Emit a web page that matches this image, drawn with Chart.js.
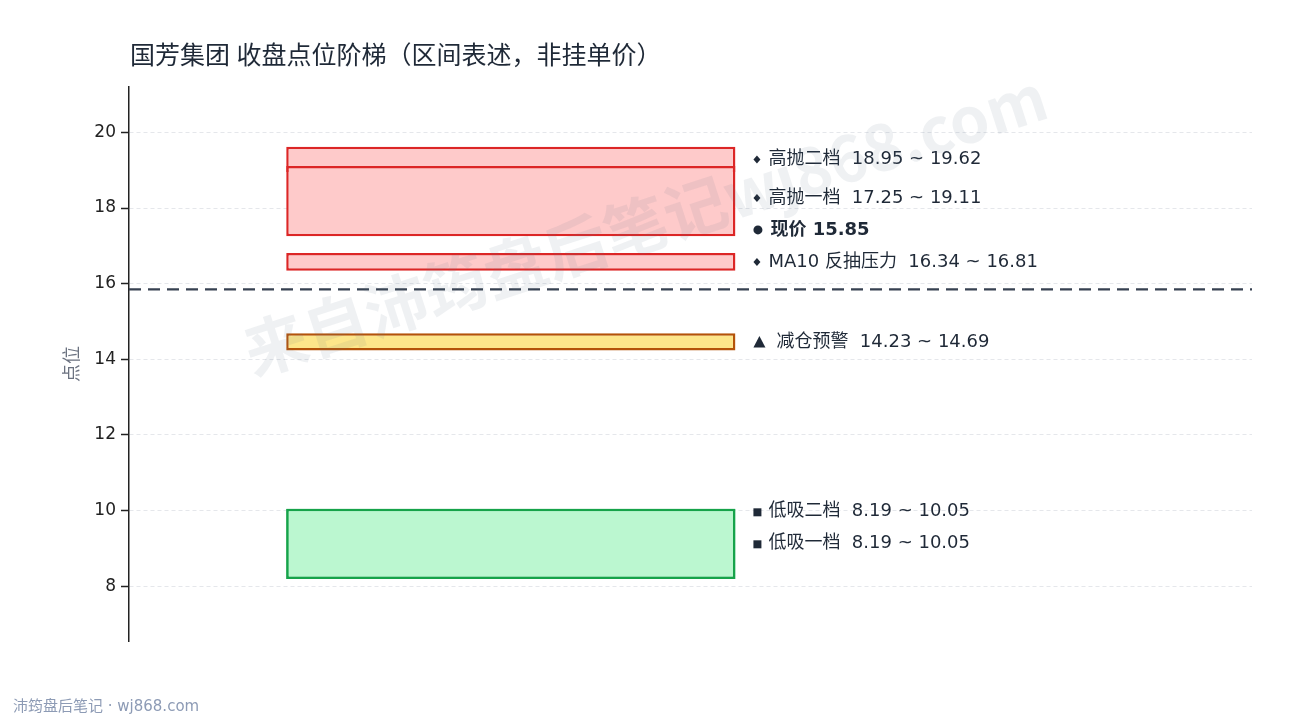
<!DOCTYPE html>
<html lang="zh-CN">
<head>
<meta charset="utf-8">
<title>国芳集团 收盘点位阶梯</title>
<script src="https://cdn.jsdelivr.net/npm/chart.js@4.4.1/dist/chart.umd.min.js"></script>
<style>
  html, body { margin: 0; padding: 0; background: #fff; }
  #wrap { width: 1290px; height: 720px; position: relative; }
</style>
</head>
<body>
<div id="wrap"><canvas id="ladder"></canvas></div>
<script>
// levels, listed top to bottom the way the labels are stacked
const levelNames = ['高抛二档', '高抛一档', '现价', 'MA10 反抽压力', '减仓预警', '低吸二档', '低吸一档'];
const levelLows = [18.95, 17.25, 15.85, 16.34, 14.23, 8.19, 8.19];
const levelHighs = [19.62, 19.11, 15.85, 16.81, 14.69, 10.05, 10.05];
const levelKinds = ['sell', 'sell', 'price', 'resist', 'warn', 'buy', 'buy'];

const yTicks = [8, 10, 12, 14, 16, 18, 20];
const yMin = 6.55;
const yMax = 21.2;

const titleText = '国芳集团 收盘点位阶梯（区间表述，非挂单价）';
const footerText = '沛筠盘后笔记 · wj868.com';
const watermarkText = '来自沛筠盘后笔记wj868.com';

const FONT = '"DejaVu Sans", "Noto Sans CJK SC", sans-serif';
const TITLE_FONT = '"Noto Sans", "Noto Sans CJK SC", sans-serif';
const CJK_FONT = '"Noto Sans CJK SC", sans-serif';
const TEXT = '#1f2937';

const kindColors = {
    sell:   { fill: '#fecaca', line: '#dc2626' },
    resist: { fill: '#fecaca', line: '#dc2626' },
    warn:   { fill: '#fde68a', line: '#b45309' },
    buy:    { fill: '#bbf7d0', line: '#16a34a' }
};

const zoneIdx = levelKinds.map((k, i) => i).filter(i => levelKinds[i] !== 'price');
const priceIdx = levelKinds.indexOf('price');
const currentPrice = levelLows[priceIdx];
const zoneX = 0.34;
const labelGap = 32;

Chart.defaults.font.family = FONT;

function drawMarker(ctx, kind, x, y) {
    ctx.fillStyle = TEXT;
    ctx.beginPath();
    if (kind === 'price') {
        ctx.arc(x + 4.5, y, 4.5, 0, Math.PI * 2);
        ctx.fill();
        return 17;
    }
    if (kind === 'warn') {
        ctx.moveTo(x, y + 5.5);
        ctx.lineTo(x + 12, y + 5.5);
        ctx.lineTo(x + 6, y - 6);
        ctx.closePath();
        ctx.fill();
        return 23;
    }
    if (kind === 'buy') {
        ctx.rect(x, y - 3.5, 8, 8);
        ctx.fill();
        return 15;
    }
    ctx.moveTo(x + 3.5, y - 4);
    ctx.lineTo(x + 7, y);
    ctx.lineTo(x + 3.5, y + 4);
    ctx.lineTo(x, y);
    ctx.closePath();
    ctx.fill();
    return 15;
}

const levelLabels = {
    id: 'levelLabels',
    afterDatasetsDraw(chart) {
        const { ctx } = chart;
        const y = chart.scales.y;
        const bar = chart.getDatasetMeta(0).data[0];
        const left = bar.x + bar.width / 2 + 18;
        const n = levelNames.length;

        // stack labels from the bottom up, keeping a minimum gap
        const ys = [];
        for (let i = n - 1; i >= 0; i--) {
            const want = y.getPixelForValue((levelLows[i] + levelHighs[i]) / 2);
            ys[i] = i === n - 1 ? want : Math.min(want, ys[i + 1] - labelGap);
        }

        ctx.save();
        ctx.textBaseline = 'middle';
        ctx.textAlign = 'left';
        for (let i = 0; i < n; i++) {
            const kind = levelKinds[i];
            const ty = ys[i];
            const off = drawMarker(ctx, kind, left, ty);
            let txt;
            if (kind === 'price') {
                ctx.font = 'bold 18px ' + FONT;
                txt = levelNames[i] + ' ' + currentPrice.toFixed(2);
            } else {
                ctx.font = '18px ' + FONT;
                txt = levelNames[i] + '  ' + levelLows[i].toFixed(2) + ' ~ ' + levelHighs[i].toFixed(2);
            }
            ctx.fillStyle = TEXT;
            ctx.fillText(txt, left + off, ty);
        }
        ctx.restore();
    }
};

const decorations = {
    id: 'decorations',
    afterDraw(chart) {
        const { ctx } = chart;
        ctx.save();
        ctx.textBaseline = 'middle';
        ctx.textAlign = 'left';
        ctx.fillStyle = TEXT;
        ctx.font = '25px ' + TITLE_FONT;
        ctx.fillText(titleText, 130, 57);

        ctx.fillStyle = '#8d9bb5';
        ctx.font = '15px ' + FONT;
        ctx.fillText(footerText, 13, 707);

        ctx.translate(645, 224);
        ctx.rotate(-18 * Math.PI / 180);
        ctx.textAlign = 'center';
        ctx.font = 'bold 63px ' + CJK_FONT;
        ctx.fillStyle = 'rgba(100, 116, 139, 0.1)';
        ctx.fillText(watermarkText, 0, 0);
        ctx.restore();
    }
};

new Chart(document.getElementById('ladder'), {
    type: 'bar',
    data: {
        datasets: [
            {
                label: 'zones',
                data: zoneIdx.map(i => ({ x: zoneX, y: [levelLows[i], levelHighs[i]] })),
                backgroundColor: zoneIdx.map(i => kindColors[levelKinds[i]].fill),
                borderColor: zoneIdx.map(i => kindColors[levelKinds[i]].line),
                borderWidth: 2.5,
                borderSkipped: false,
                grouped: false,
                categoryPercentage: 0.4,
                barPercentage: 1,
                order: 2
            },
            {
                type: 'line',
                label: '现价',
                data: [{ x: 0, y: currentPrice }, { x: 1, y: currentPrice }],
                borderColor: '#374151',
                borderWidth: 2.2,
                borderDash: [12, 7],
                pointRadius: 0,
                fill: false,
                order: 1
            }
        ]
    },
    options: {
        responsive: true,
        maintainAspectRatio: false,
        animation: false,
        events: [],
        layout: { padding: { top: 87, bottom: 79, left: 0, right: 38 } },
        plugins: {
            legend: { display: false },
            title: { display: false },
            tooltip: { enabled: false }
        },
        scales: {
            x: {
                type: 'linear',
                min: 0,
                max: 1,
                offset: false,
                display: false,
                grid: { offset: false },
                afterBuildTicks(scale) { scale.ticks = [{ value: 0 }, { value: 1 }]; }
            },
            y: {
                min: yMin,
                max: yMax,
                afterFit(scale) { scale.width = 129; },
                afterBuildTicks(scale) { scale.ticks = yTicks.map(v => ({ value: v })); },
                ticks: { color: '#222', font: { size: 17 }, padding: 5 },
                grid: {
                    color: '#e5e7eb',
                    lineWidth: 1,
                    tickLength: 8,
                    tickColor: '#222',
                    tickWidth: 1.5,
                    tickBorderDash: []
                },
                border: { color: '#222', width: 1.5, dash: [4, 3] },
                title: {
                    display: true,
                    text: '点位',
                    color: '#6b7280',
                    font: { size: 18, family: TITLE_FONT },
                    padding: { top: 62, bottom: 0 }
                }
            }
        }
    },
    plugins: [levelLabels, decorations]
});
</script>
</body>
</html>
